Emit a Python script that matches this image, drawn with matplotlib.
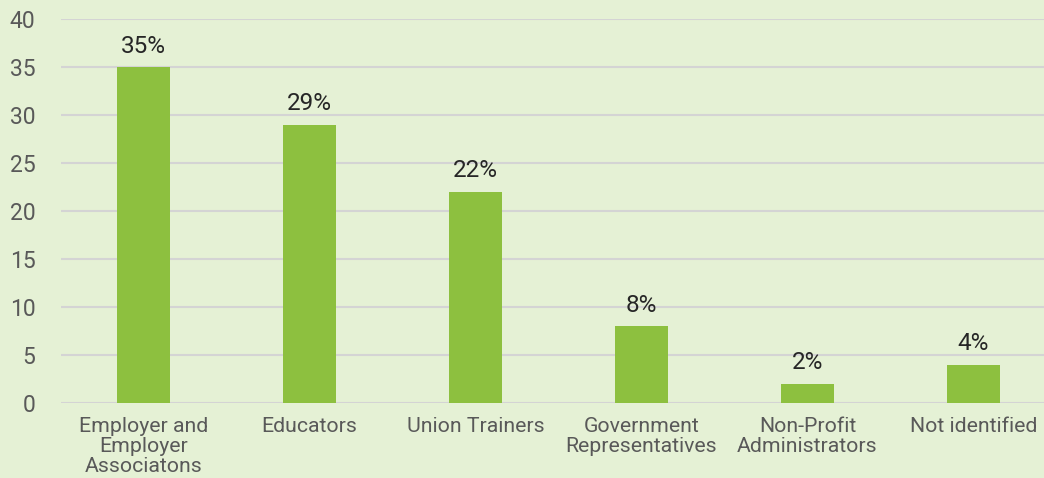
import matplotlib.pyplot as plt

plt.rcParams['font.family'] = ['Roboto', 'DejaVu Sans']

categories = ["Employer and\nEmployer\nAssociatons", "Educators", "Union Trainers",
              "Government\nRepresentatives", "Non-Profit\nAdministrators", "Not identified"]
values = [35, 29, 22, 8, 2, 4]
labels = ["35%", "29%", "22%", "8%", "2%", "4%"]

bg = "#E5F1D5"
fig = plt.figure(figsize=(10.44, 4.78), dpi=100, facecolor=bg)
ax = fig.add_axes([0.058, 0.157, 0.954, 0.803], facecolor=bg)

x = range(len(categories))
bars = ax.bar(x, values, width=0.32, color="#8DC03F", zorder=2)
for b, lab in zip(bars, labels):
    ax.text(b.get_x() + b.get_width() / 2, b.get_height() + 1.0, lab,
            ha="center", va="bottom", fontsize=17.5, color="#262626", zorder=1)

ax.set_xlim(-0.5, 5.5)
ax.set_ylim(0, 40)
ax.set_yticks(range(0, 41, 5))
ax.yaxis.grid(True, color="#D4D4D4", linewidth=1.5, zorder=0)
ax.set_axisbelow(True)
ax.set_xticks(list(x))
ax.set_xticklabels(categories, fontsize=15.3, color="#595959", linespacing=1.08)
ax.tick_params(axis="y", labelsize=16.5, labelcolor="#595959", length=0, pad=18)
ax.tick_params(axis="x", length=0, pad=10)
for s in ax.spines.values():
    s.set_visible(False)

fig.savefig("out.png", dpi=100, facecolor=bg)
